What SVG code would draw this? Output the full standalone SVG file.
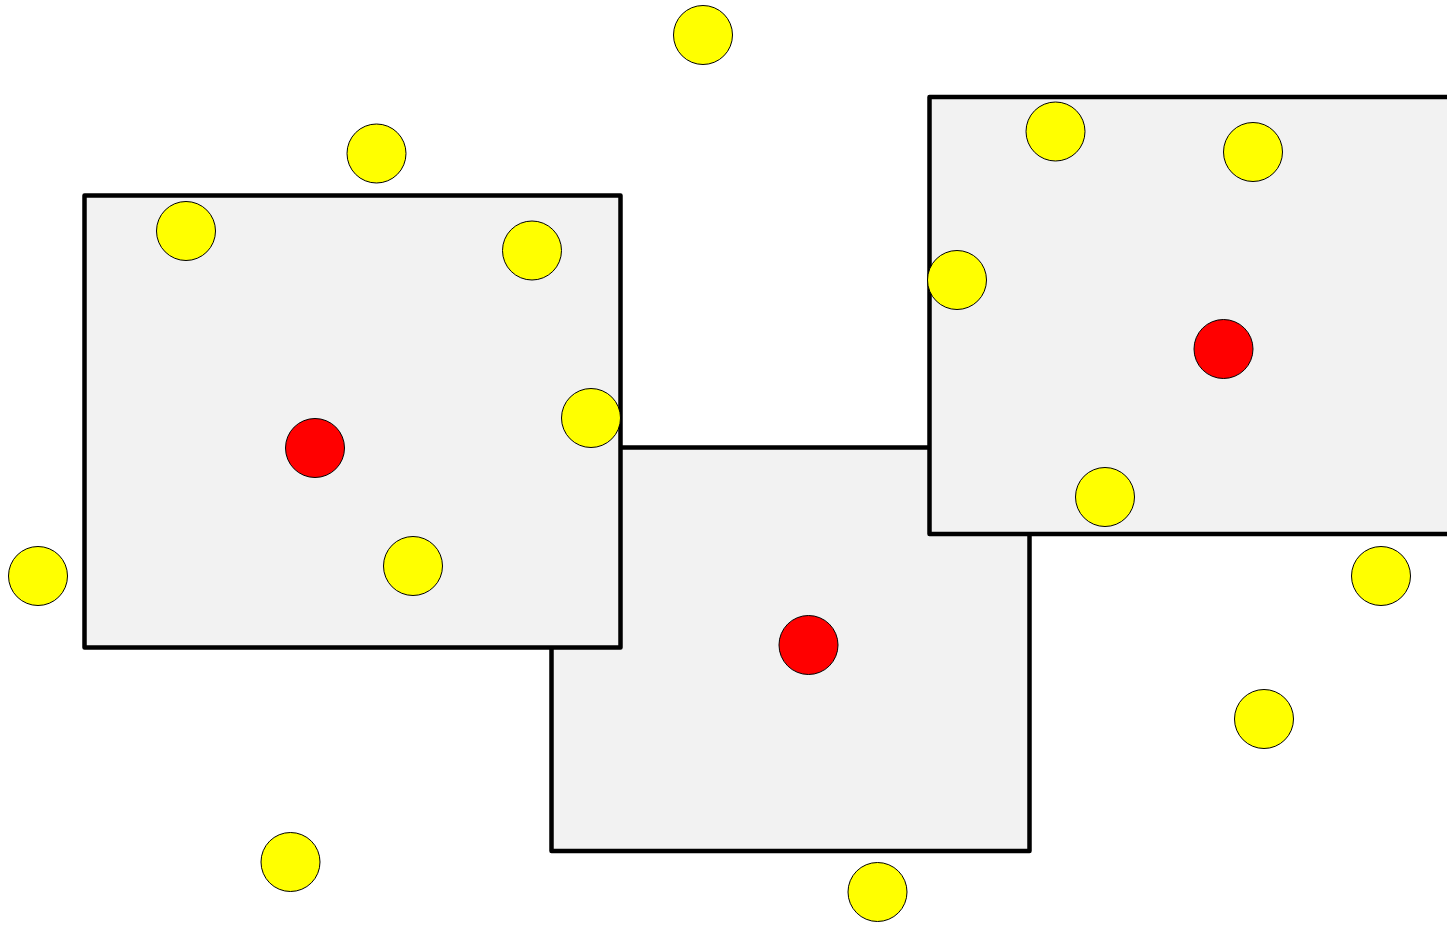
<svg xmlns="http://www.w3.org/2000/svg" width="1447" height="926" viewBox="0 0 1447 926">
<style>
.box{fill:#f2f2f2;stroke:#000;stroke-width:4.5;stroke-linejoin:round}
.y{fill:#ffff00;stroke:#000;stroke-width:1}
.r{fill:#ff0000;stroke:#000;stroke-width:1}
</style>
<rect width="1447" height="926" fill="#fff"/>
<g id="regions">
<rect id="box-middle" class="box" x="551.5" y="447.5" width="478" height="403.5"/>
<rect id="box-left" class="box" x="84.5" y="195.5" width="536" height="452"/>
<rect id="box-right" class="box" x="929.5" y="97" width="530" height="437"/>
</g>
<g id="centers">
<circle id="c1" class="r" cx="315" cy="448" r="29.5"/>
<circle id="c2" class="r" cx="808.5" cy="645" r="29.5"/>
<circle id="c3" class="r" cx="1223.5" cy="349" r="29.5"/>
</g>
<g id="points">
<circle id="p1" class="y" cx="703" cy="35" r="29.5"/>
<circle id="p2" class="y" cx="376.5" cy="153.5" r="29.5"/>
<circle id="p3" class="y" cx="186" cy="231" r="29.5"/>
<circle id="p4" class="y" cx="532" cy="250.5" r="29.5"/>
<circle id="p5" class="y" cx="591" cy="418" r="29.5"/>
<circle id="p6" class="y" cx="38" cy="576" r="29.5"/>
<circle id="p7" class="y" cx="413" cy="566" r="29.5"/>
<circle id="p8" class="y" cx="290.5" cy="862" r="29.5"/>
<circle id="p9" class="y" cx="877.5" cy="892" r="29.5"/>
<circle id="p10" class="y" cx="1055.5" cy="131.5" r="29.5"/>
<circle id="p11" class="y" cx="1253" cy="152" r="29.5"/>
<circle id="p12" class="y" cx="957" cy="280" r="29.5"/>
<circle id="p13" class="y" cx="1105" cy="497" r="29.5"/>
<circle id="p14" class="y" cx="1381" cy="576" r="29.5"/>
<circle id="p15" class="y" cx="1264" cy="719" r="29.5"/>
</g>
</svg>
